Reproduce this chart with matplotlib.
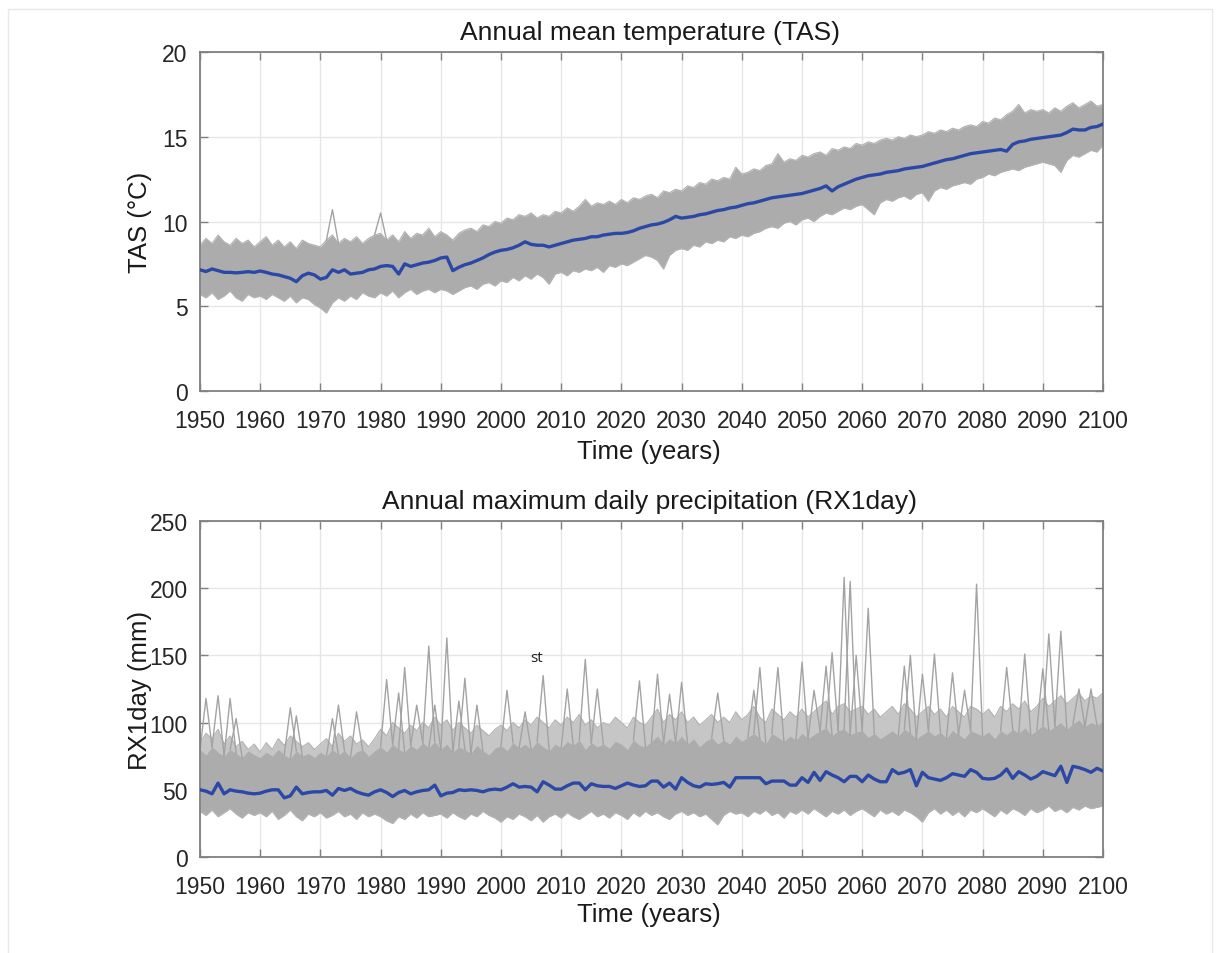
import numpy as np
import matplotlib
matplotlib.use("Agg")
import matplotlib.pyplot as plt
from matplotlib.patches import Rectangle

plt.rcParams['font.family'] = ['Liberation Sans', 'DejaVu Sans']

years = np.arange(1950, 2101)

# ---- annual mean temperature (TAS), ensemble mean (blue)
tas_mean = [
    7.15, 7.05, 7.2, 7.1, 7.0, 7.0, 6.97, 7.0, 7.04, 7.0,
    7.08, 7.0, 6.9, 6.85, 6.75, 6.65, 6.45, 6.8, 6.95, 6.85,
    6.6, 6.7, 7.15, 7.0, 7.15, 6.9, 6.95, 7.0, 7.15, 7.2,
    7.35, 7.4, 7.35, 6.9, 7.5, 7.35, 7.45, 7.55, 7.6, 7.7,
    7.85, 7.9, 7.1, 7.3, 7.45, 7.55, 7.7, 7.85, 8.05, 8.2,
    8.3, 8.35, 8.45, 8.6, 8.8, 8.65, 8.6, 8.6, 8.5, 8.6,
    8.7, 8.8, 8.9, 8.95, 9.0, 9.1, 9.1, 9.2, 9.25, 9.3,
    9.3, 9.35, 9.45, 9.6, 9.7, 9.8, 9.85, 9.95, 10.1, 10.3,
    10.2, 10.25, 10.3, 10.4, 10.45, 10.55, 10.65, 10.7, 10.8, 10.85,
    10.95, 11.05, 11.1, 11.2, 11.3, 11.4, 11.45, 11.5, 11.55, 11.6,
    11.65, 11.75, 11.85, 11.95, 12.1, 11.8, 12.05, 12.2, 12.35, 12.5,
    12.6, 12.7, 12.75, 12.8, 12.9, 12.95, 13.0, 13.1, 13.15, 13.2,
    13.25, 13.35, 13.45, 13.55, 13.65, 13.7, 13.8, 13.9, 14.0, 14.05,
    14.1, 14.15, 14.2, 14.25, 14.15, 14.55, 14.7, 14.75, 14.85, 14.9,
    14.95, 15.0, 15.05, 15.1, 15.25, 15.45, 15.4, 15.4, 15.55, 15.6,
    15.75]

# ensemble members spread (grey band), upper and lower edge
tas_high = [
    8.6, 9.0, 8.7, 9.2, 8.8, 8.6, 9.0, 8.7, 8.9, 8.5,
    8.8, 9.1, 8.6, 8.9, 8.5, 8.8, 8.4, 8.9, 8.7, 8.6,
    8.5, 8.9, 9.2, 8.7, 9.0, 8.8, 9.1, 8.7, 9.0, 9.2,
    9.3, 8.9, 9.2, 8.8, 9.4, 9.0, 9.3, 9.2, 9.6, 9.1,
    9.4, 9.2, 8.9, 9.3, 9.5, 9.6, 9.4, 9.8, 9.7, 10.0,
    9.9, 10.2, 10.1, 10.4, 10.3, 10.5, 10.2, 10.4, 10.3, 10.6,
    10.5, 10.8, 10.6, 10.9, 11.3, 10.9, 11.1, 11.0, 11.2, 11.0,
    11.3, 11.1, 11.4, 11.3, 11.5, 11.6, 11.4, 11.8, 11.7, 11.9,
    11.8, 12.1, 12.0, 12.3, 12.2, 12.5, 12.4, 12.6, 12.5, 13.2,
    12.8, 12.9, 13.1, 13.0, 13.3, 13.4, 14.0, 13.5, 13.7, 13.6,
    13.9, 13.8, 14.0, 14.1, 13.9, 14.3, 14.2, 14.4, 14.3, 14.6,
    14.5, 14.7, 14.6, 14.8, 14.9, 14.8, 15.0, 14.9, 15.1, 15.0,
    15.1, 15.3, 15.2, 15.4, 15.3, 15.5, 15.4, 15.6, 15.7, 15.6,
    15.9, 15.8, 16.1, 16.0, 16.3, 16.5, 16.9, 16.4, 16.6, 16.5,
    16.6, 16.4, 16.7, 16.5, 16.8, 17.0, 16.7, 16.9, 17.1, 16.8,
    16.9]

tas_low = [
    5.7, 5.5, 5.8, 5.4, 5.6, 5.9, 5.5, 5.3, 5.7, 5.5,
    5.6, 5.4, 5.7, 5.5, 5.3, 5.6, 5.2, 5.5, 5.4, 5.1,
    4.9, 4.6, 5.2, 5.5, 5.3, 5.6, 5.4, 5.8, 5.6, 5.5,
    5.8, 5.6, 5.9, 5.5, 5.8, 6.0, 5.7, 5.9, 6.0, 5.8,
    6.0, 5.9, 5.7, 5.9, 6.1, 6.2, 6.0, 6.3, 6.4, 6.2,
    6.5, 6.4, 6.7, 6.5, 6.8, 6.6, 6.9, 6.7, 6.3, 6.9,
    7.0, 6.8, 7.1, 7.0, 7.2, 7.1, 7.3, 7.0, 7.4, 7.3,
    7.5, 7.4, 7.6, 7.8, 8.0, 7.9, 7.7, 7.2, 8.0, 8.3,
    8.4, 8.3, 8.6, 8.5, 8.8, 8.7, 8.9, 8.8, 9.1, 9.0,
    9.2, 9.1, 9.3, 9.4, 9.6, 9.7, 9.6, 9.9, 10.0, 9.8,
    10.1, 10.2, 10.0, 10.3, 10.5, 10.4, 10.6, 10.8, 10.7, 10.9,
    11.0, 10.7, 10.4, 11.1, 11.3, 11.2, 11.4, 11.5, 11.3, 11.6,
    11.7, 11.2, 11.8, 12.0, 11.9, 12.1, 12.2, 12.3, 12.2, 12.5,
    12.6, 12.8, 12.7, 12.9, 13.0, 13.1, 13.0, 13.2, 13.3, 13.4,
    13.5, 13.4, 13.3, 12.9, 13.6, 13.9, 13.8, 14.0, 14.2, 14.1,
    14.5]

# single members sticking out of the band
tas_spike_years = [1972, 1980]
tas_spike_vals = [10.7, 10.5]

# ---- annual maximum daily precipitation (RX1day)
rx_mean = [
    50, 49, 47, 55, 47, 50, 49, 48.5, 47.5, 47,
    47.5, 49, 50, 50, 44, 45.5, 52, 47, 48, 48.5,
    48.5, 49.5, 46, 51, 49.5, 51, 48.5, 47, 46, 48.5,
    50, 48, 45, 48, 49.5, 47, 48.5, 49.5, 50, 53.5,
    45.5, 47.5, 48, 50, 49.5, 50, 49.5, 48.5, 50, 50.5,
    50, 52, 54.5, 52, 52.5, 52, 48.5, 56, 53.5, 50.5,
    50.5, 53, 55, 55, 50, 54.5, 53, 52.5, 52.5, 51,
    53, 55, 53.5, 52.5, 53, 56.5, 56.5, 52, 55, 50.5,
    59, 55.5, 53, 52, 54.5, 54, 54.5, 55.5, 52, 59,
    59, 59, 59, 59, 54.5, 56.5, 56.5, 56.5, 53.5, 53.5,
    59, 55.5, 63, 57, 63.5, 61, 59, 56, 60, 60,
    56, 61, 58, 56, 56, 65, 62, 63, 65, 53,
    63, 59, 58, 57, 59, 62, 61, 60, 65, 63,
    58.5, 58, 58.5, 61, 65.5, 58.5, 63.5, 61, 58, 60,
    63.5, 62, 60.5, 67.5, 55.5, 67.5, 66.5, 65, 63, 66,
    64]

# dense core of the members (top edge), outer edge, and bottom edge
rx_core = [
    80, 76, 82, 78, 75, 80, 77, 74, 79, 76,
    74, 78, 75, 80, 76, 73, 79, 75, 77, 74,
    78, 75, 80, 76, 79, 74, 78, 80, 75, 79,
    82, 78, 84, 80, 78, 83, 80, 85, 81, 86,
    80, 84, 78, 82, 80, 77, 83, 79, 76, 81,
    83, 79, 85, 81, 84, 80, 86, 82, 79, 84,
    81, 86, 83, 87, 80, 85, 82, 84, 81, 86,
    84, 80, 87, 83, 82, 86, 90, 84, 88, 85,
    90, 84, 88, 82, 86, 89, 84, 87, 84, 90,
    86, 89, 92, 88, 84, 92, 89, 86, 90, 87,
    92, 88, 91, 94, 96, 90, 94, 95, 91, 93,
    94, 89, 92, 88, 91, 94, 90, 95, 92, 88,
    91, 94, 90, 93, 88, 94, 91, 88, 94, 92,
    90, 93, 88, 94, 91, 95, 92, 96, 91, 94,
    98, 94, 97, 100, 95, 99, 102, 97, 100, 98,
    101]

rx_high = [
    85, 92, 88, 95, 84, 90, 82, 86, 80, 84,
    78, 85, 80, 88, 83, 90, 86, 82, 85, 80,
    84, 88, 82, 92, 86, 90, 84, 87, 82, 88,
    95, 90, 100, 96, 92, 98, 94, 100, 96, 104,
    98, 102, 94, 100, 96, 92, 98, 94, 90, 95,
    98, 94, 100, 96, 102, 98, 104, 100, 96, 102,
    98, 104, 100, 106, 98, 102, 96, 100, 98, 104,
    100, 96, 104, 100, 98, 104, 110, 100, 106, 102,
    108, 100, 104, 98, 102, 106, 100, 104, 100, 108,
    102, 106, 112, 104, 100, 110, 106, 102, 108, 104,
    110, 104, 108, 112, 116, 106, 112, 114, 108, 110,
    112, 106, 110, 104, 108, 112, 106, 114, 110, 104,
    108, 112, 106, 110, 104, 112, 108, 104, 112, 110,
    106, 110, 104, 112, 108, 114, 110, 116, 108, 112,
    118, 112, 116, 120, 114, 118, 122, 116, 120, 118,
    122]

rx_low = [
    34, 31, 35, 30, 33, 36, 32, 29, 33, 31,
    33, 30, 34, 28, 31, 35, 30, 27, 32, 30,
    33, 29, 31, 34, 30, 32, 28, 33, 30, 32,
    30, 27, 25, 30, 28, 32, 29, 33, 30, 31,
    32, 29, 33, 30, 28, 32, 30, 34, 31, 29,
    26, 30, 28, 32, 30, 27, 31, 26, 30, 32,
    29, 33, 30, 28, 31, 34, 30, 32, 29, 33,
    31, 28, 33, 30, 34, 31, 33, 30, 28, 32,
    34, 31, 33, 30, 32, 28, 24, 31, 34, 32,
    33, 30, 34, 32, 35, 31, 33, 29, 34, 32,
    35, 32, 36, 33, 30, 34, 32, 35, 31, 34,
    36, 33, 30, 35, 32, 34, 31, 35, 33, 30,
    26, 33, 36, 32, 35, 31, 34, 30, 35, 33,
    36, 33, 30, 35, 32, 36, 34, 31, 36, 33,
    35, 38, 34, 36, 33, 37, 35, 38, 36, 37,
    38]

rx_spike_years = [1951, 1953, 1955, 1956, 1965, 1966, 1972, 1973, 1976, 1981,
                  1983, 1984, 1986, 1988, 1989, 1991, 1993, 1994, 1996, 2001,
                  2004, 2007, 2011, 2014, 2016, 2023, 2026, 2028, 2030, 2036,
                  2042, 2043, 2046, 2050, 2052, 2054, 2055, 2057, 2058, 2059,
                  2061, 2067, 2068, 2070, 2072, 2075, 2077, 2079, 2084, 2087,
                  2090, 2091, 2093, 2096, 2098]
rx_spike_vals = [118, 120, 118, 103, 111, 105, 103, 113, 108, 132,
                 122, 141, 113, 157, 113, 163, 116, 133, 113, 124,
                 108, 135, 125, 147, 125, 131, 136, 121, 130, 122,
                 124, 141, 141, 145, 124, 142, 152, 208, 205, 150,
                 185, 142, 150, 136, 151, 137, 124, 203, 141, 151,
                 140, 166, 168, 125, 125]

xticks = list(range(1950, 2101, 10))
gray = '#a3a3a3'
blue = '#2b48a6'
frame = '#808080'

fig = plt.figure(figsize=(12.22, 9.54), dpi=100)
W, H = 1222, 954


def style_axes(ax, yticks):
    ax.set_xlim(1950, 2100)
    ax.set_ylim(yticks[0], yticks[-1])
    ax.set_xticks(xticks)
    ax.set_yticks(yticks)
    ax.grid(True, color='#e6e6e6', linewidth=1.0)
    ax.set_axisbelow(True)
    ax.tick_params(direction='in', top=True, right=True, length=6, width=1.0,
                   color=frame, labelsize=16.5, labelcolor='#262626')
    ax.tick_params(axis='x', pad=13)
    ax.tick_params(axis='y', pad=9)
    for s in ax.spines.values():
        s.set_color(frame)
        s.set_linewidth(1.3)


def spikes(ax, base, s_years, s_vals):
    for yr, v in zip(s_years, s_vals):
        i = yr - 1950
        ax.plot(years[i - 1:i + 2], [base[i - 1], v, base[i + 1]],
                color=gray, linewidth=1.0, zorder=2)


# top panel
ax1 = fig.add_axes([200 / W, 1 - 392 / H, 903 / W, 339 / H])
style_axes(ax1, [0, 5, 10, 15, 20])
ax1.fill_between(years, tas_low, tas_high, color='#acacac', linewidth=0, zorder=2)
ax1.plot(years, tas_high, color='#b4b4b4', linewidth=0.9, zorder=2)
ax1.plot(years, tas_low, color='#b4b4b4', linewidth=0.9, zorder=2)
spikes(ax1, tas_high, tas_spike_years, tas_spike_vals)
ax1.plot(years, tas_mean, color=blue, linewidth=2.4, zorder=3)

# bottom panel
ax2 = fig.add_axes([200 / W, 1 - 858 / H, 903 / W, 336 / H])
style_axes(ax2, [0, 50, 100, 150, 200, 250])
ax2.fill_between(years, rx_low, rx_high, color='#c6c6c6', linewidth=0, zorder=2)
ax2.plot(years, rx_high, color='#b4b4b4', linewidth=0.9, zorder=2)
ax2.fill_between(years, rx_low, rx_core, color='#acacac', linewidth=0, zorder=2)
ax2.plot(years, rx_low, color='#b4b4b4', linewidth=0.9, zorder=2)
spikes(ax2, rx_core, rx_spike_years, rx_spike_vals)
ax2.plot(years, rx_mean, color=blue, linewidth=2.4, zorder=3)

# titles and labels placed like the original
def ftext(x, y, s, **kw):
    fig.text(x / W, 1 - y / H, s, ha='center', va='center', color='#1a1a1a', **kw)

ftext(650, 33, 'Annual mean temperature (TAS)', fontsize=19)
ftext(649, 452, 'Time (years)', fontsize=18.5)
ftext(140, 222, 'TAS (°C)', fontsize=18.5, rotation=90)
ftext(650, 502, 'Annual maximum daily precipitation (RX1day)', fontsize=19)
ftext(649, 915, 'Time (years)', fontsize=18.5)
ftext(140, 690, 'RX1day (mm)', fontsize=18.5, rotation=90)
fig.text(537 / W, 1 - 659 / H, 'st', ha='center', va='center', fontsize=11,
         family='Open Sans', color='#222222')

# faint frame of the original screenshot
fig.patches.append(Rectangle((8 / W, -0.01), (1212 - 8) / W, 1 - 10 / H + 0.01,
                             transform=fig.transFigure, fill=False,
                             edgecolor='#e8e8e8', linewidth=1.0))

fig.savefig('out.png', dpi=100)
